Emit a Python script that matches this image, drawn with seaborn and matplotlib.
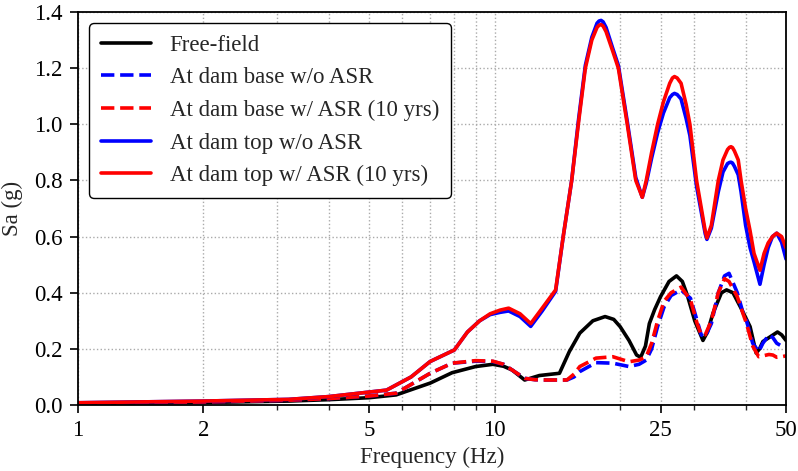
import matplotlib
matplotlib.use("Agg")
import matplotlib.pyplot as plt
import seaborn as sns
from matplotlib.ticker import FixedLocator, FixedFormatter, NullFormatter

# ---------------- data ----------------
f_top = [1, 2, 3.2, 4, 5.5, 6.3, 7, 8, 8.6, 9.2, 9.75, 10.3, 10.8, 11.5, 12.2, 13, 14, 14.6,
         15.3, 15.9, 16.5, 17.1, 17.6, 17.8, 18.0, 18.2, 18.5, 19.2, 19.8, 20.8, 21.8, 22.6,
         23.1, 23.8, 24.6, 25.4, 26.3, 26.7, 27.0, 27.4, 28.0, 28.8, 29.4, 30.5, 32.0, 32.3,
         33.1, 34.4, 35.3, 36.2, 36.6, 36.9, 37.2, 37.6, 38.4, 39.0, 40.0, 41.0, 41.9, 43.3,
         44.3, 45.3, 46.4, 47.5, 48.8, 50]
top_asr = [0.008, 0.014, 0.02, 0.03, 0.053, 0.10, 0.155, 0.196, 0.26, 0.30, 0.325, 0.338, 0.345,
           0.325, 0.29, 0.345, 0.41, 0.60, 0.80, 1.01, 1.20, 1.30, 1.345, 1.353, 1.355, 1.35,
           1.33, 1.26, 1.20, 1.00, 0.80, 0.74, 0.80, 0.90, 1.00, 1.08, 1.146, 1.165, 1.17,
           1.165, 1.146, 1.07, 1.00, 0.80, 0.62, 0.595, 0.64, 0.80, 0.873, 0.91, 0.918, 0.92,
           0.917, 0.905, 0.873, 0.80, 0.70, 0.62, 0.54, 0.48, 0.54, 0.577, 0.60, 0.612, 0.60,
           0.56]
top_noasr = [0.008, 0.014, 0.02, 0.03, 0.053, 0.10, 0.155, 0.196, 0.26, 0.30, 0.322, 0.33, 0.335,
             0.315, 0.28, 0.335, 0.405, 0.60, 0.80, 1.02, 1.21, 1.31, 1.36, 1.368, 1.37, 1.365,
             1.345, 1.27, 1.21, 1.01, 0.81, 0.74, 0.79, 0.88, 0.97, 1.04, 1.095, 1.106, 1.11,
             1.106, 1.09, 1.02, 0.96, 0.78, 0.61, 0.59, 0.63, 0.76, 0.83, 0.86, 0.864, 0.865,
             0.862, 0.85, 0.82, 0.76, 0.64, 0.56, 0.51, 0.43, 0.50, 0.56, 0.60, 0.612, 0.58,
             0.52]

f_free = [1, 2, 3.2, 4, 5, 5.8, 7, 7.9, 9.0, 9.9, 10.5, 11.0, 11.8, 12.8, 14.3, 15.1, 16.0,
          17.2, 18.4, 19.3, 20.0, 21.0, 21.9, 22.4, 23.0, 23.5, 24.2, 25.0, 26.2, 27.3, 28.2,
          29.0, 30.2, 31.6, 32.4, 33.4, 35.0, 36.0, 37.3, 39.0, 41.0, 42.4, 43.2, 44.0, 45.5,
          47.7, 48.8, 50]
free_field = [0.005, 0.009, 0.014, 0.019, 0.026, 0.036, 0.078, 0.115, 0.137, 0.145, 0.138, 0.125,
              0.089, 0.105, 0.113, 0.19, 0.256, 0.30, 0.315, 0.305, 0.279, 0.23, 0.178, 0.17,
              0.21, 0.29, 0.34, 0.386, 0.44, 0.46, 0.44, 0.39, 0.30, 0.23, 0.26, 0.327, 0.40,
              0.41, 0.40, 0.345, 0.279, 0.185, 0.20, 0.226, 0.24, 0.26, 0.25, 0.23]

f_base = [1, 2, 3.2, 4, 5, 5.8, 7, 7.9, 9.0, 9.9, 10.5, 11.0, 11.8, 12.5, 13.3, 14.9, 15.5,
          16.0, 17.5, 19.2, 21.0, 22.2, 23.1, 23.8, 24.6, 25.5, 26.5, 28.0, 29.5, 30.6, 31.3,
          32.0, 33.1, 34.4, 35.6, 36.5, 38.2, 39.4, 40.2, 41.6, 43.0, 44.0, 45.5, 46.5, 47.5,
          48.8, 50]
base_asr = [0.006, 0.011, 0.017, 0.023, 0.032, 0.042, 0.113, 0.149, 0.158, 0.156, 0.145, 0.125,
            0.095, 0.09, 0.089, 0.089, 0.11, 0.137, 0.167, 0.172, 0.154, 0.16, 0.172, 0.22, 0.30,
            0.37, 0.40, 0.42, 0.374, 0.29, 0.25, 0.25, 0.30, 0.40, 0.45, 0.44, 0.386, 0.327,
            0.29, 0.21, 0.172, 0.175, 0.18, 0.178, 0.17, 0.172, 0.175]
base_noasr = [0.006, 0.011, 0.017, 0.023, 0.032, 0.042, 0.113, 0.149, 0.156, 0.155, 0.145, 0.125,
              0.095, 0.09, 0.089, 0.089, 0.10, 0.119, 0.151, 0.149, 0.137, 0.145, 0.16, 0.20,
              0.28, 0.35, 0.39, 0.41, 0.38, 0.30, 0.25, 0.243, 0.29, 0.40, 0.46, 0.469, 0.40,
              0.33, 0.30, 0.22, 0.19, 0.22, 0.25, 0.24, 0.22, 0.21, 0.21]

x_major = [1, 2, 5, 10, 25, 50]
x_minor = [3, 4, 6, 7, 8, 9, 20, 30, 40]
y_ticks = [0.0, 0.2, 0.4, 0.6, 0.8, 1.0, 1.2, 1.4]

# ---------------- plot ----------------
sns.set_style("ticks")
plt.rcParams['font.family'] = ['Liberation Serif', 'DejaVu Serif']
FS = 16.5

fig = plt.figure(figsize=(7.98, 4.71), dpi=100)
ax = fig.add_axes([78/798, 1-405/471, (786-78)/798, (405-12)/471])

lw = 2.6
sns.lineplot(x=f_free, y=free_field, ax=ax, color='black', lw=lw, label='Free-field')
sns.lineplot(x=f_base, y=base_noasr, ax=ax, color='#0000ff', lw=lw, ls='--',
             label='At dam base w/o ASR')
sns.lineplot(x=f_base, y=base_asr, ax=ax, color='#ff0000', lw=lw, ls='--',
             label='At dam base w/ ASR (10 yrs)')
sns.lineplot(x=f_top, y=top_noasr, ax=ax, color='#0000ff', lw=lw, label='At dam top w/o ASR')
sns.lineplot(x=f_top, y=top_asr, ax=ax, color='#ff0000', lw=lw, label='At dam top w/ ASR (10 yrs)')

ax.set_xscale('log')
ax.set_xlim(1, 50)
ax.set_ylim(0, 1.4)
ax.xaxis.set_major_locator(FixedLocator(x_major))
ax.xaxis.set_major_formatter(FixedFormatter([str(v) for v in x_major]))
ax.xaxis.set_minor_locator(FixedLocator(x_minor))
ax.xaxis.set_minor_formatter(NullFormatter())
ax.set_yticks(y_ticks)
ax.set_yticklabels([f"{v:.1f}" for v in y_ticks])

ax.grid(True, which='both', axis='x', ls=':', color='#aaaaaa', lw=1.0)
ax.grid(True, which='major', axis='y', ls=':', color='#aaaaaa', lw=1.0)

for s in ax.spines.values():
    s.set_visible(True)
    s.set_color('black')
    s.set_linewidth(1.3)

ax.tick_params(axis='both', which='major', direction='out', length=6, width=1.2,
               labelsize=FS, pad=5, colors='black')
ax.tick_params(axis='x', which='minor', direction='out', length=3.5, width=1.0)

ax.set_xlabel('Frequency (Hz)', fontsize=FS, labelpad=4)
ax.set_ylabel('Sa (g)', fontsize=FS, labelpad=8)

leg = ax.legend(loc='upper left', fontsize=FS, frameon=True, fancybox=True,
                handlelength=2.2, handletextpad=0.8, labelspacing=0.5,
                borderpad=0.5, borderaxespad=0.5)
leg.get_frame().set_edgecolor('black')
leg.get_frame().set_linewidth(1.0)
leg.get_frame().set_alpha(1.0)

fig.savefig('out.png', dpi=100)
